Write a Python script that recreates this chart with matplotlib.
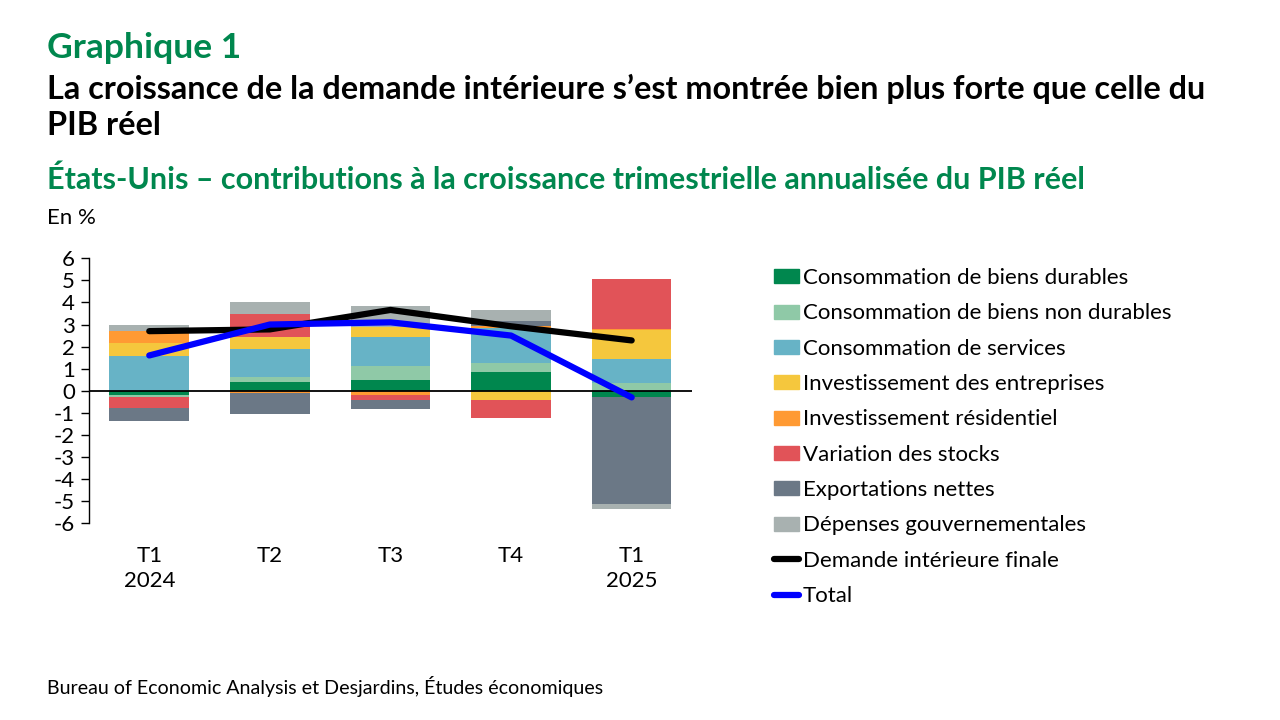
import matplotlib.pyplot as plt
import matplotlib.lines as mlines
import matplotlib.patches as mpatches
import numpy as np

plt.rcParams['font.family'] = ['Lato', 'DejaVu Sans']
plt.rcParams['axes.unicode_minus'] = False

# trimestres
quarters = ['T1\n2024', 'T2', 'T3', 'T4', 'T1\n2025']

# contributions (points de %)
durables = [-0.17, 0.38, 0.51, 0.83, -0.26]
non_durables = [-0.09, 0.23, 0.63, 0.45, 0.33]
services = [1.56, 1.27, 1.31, 1.57, 1.13]
entreprises = [0.59, 0.54, 0.45, -0.44, 1.30]
residentiel = [0.55, -0.12, -0.21, 0.08, 0.03]
stocks = [-0.50, 1.04, -0.21, -0.81, 2.28]
exportations = [-0.63, -0.91, -0.42, 0.24, -4.85]
gouvernement = [0.27, 0.54, 0.95, 0.49, -0.26]

demande_finale = [2.7, 2.78, 3.66, 2.92, 2.28]
total = [1.6, 3.0, 3.1, 2.5, -0.3]

series = [
    ('Consommation de biens durables', durables, '#00874E'),
    ('Consommation de biens non durables', non_durables, '#8FC9A7'),
    ('Consommation de services', services, '#67B3C6'),
    ('Investissement des entreprises', entreprises, '#F5C73D'),
    ('Investissement résidentiel', residentiel, '#FF9A33'),
    ('Variation des stocks', stocks, '#E15358'),
    ('Exportations nettes', exportations, '#6B7886'),
    ('Dépenses gouvernementales', gouvernement, '#A8B1B0'),
]

green = '#00874E'

fig = plt.figure(figsize=(12.8, 7.2), dpi=100)
ax = fig.add_axes([0.0695, 0.2732, 0.4711, 0.3681])

x = np.arange(len(quarters))
pos = np.zeros(len(x))
neg = np.zeros(len(x))
handles = []
for name, vals, col in series:
    v = np.array(vals)
    bottom = np.where(v >= 0, pos, neg)
    ax.bar(x, v, width=0.66, bottom=bottom, color=col, zorder=2)
    pos = pos + np.where(v >= 0, v, 0)
    neg = neg + np.where(v < 0, v, 0)
    handles.append(mpatches.Patch(color=col, label=name))

ax.axhline(0, color='black', lw=1.3, zorder=3)
ax.plot(x, demande_finale, color='black', lw=4.5, solid_capstyle='round', zorder=4)
ax.plot(x, total, color='#0000FF', lw=4.5, solid_capstyle='round', zorder=5)
handles.append(mlines.Line2D([], [], color='black', lw=4.5, solid_capstyle='round', label='Demande intérieure finale'))
handles.append(mlines.Line2D([], [], color='#0000FF', lw=4.5, solid_capstyle='round', label='Total'))

ax.set_xlim(-0.5, 4.5)
ax.set_ylim(-6, 6)
ax.set_yticks(range(-6, 7))
ax.set_xticks(x)
ax.set_xticklabels(quarters, fontsize=16, linespacing=1.35)
ax.tick_params(axis='x', length=0, pad=16)
ax.tick_params(axis='y', labelsize=16, length=6, width=1, direction='out', pad=4)
for s in ['top', 'right', 'bottom']:
    ax.spines[s].set_visible(False)
ax.spines['left'].set_linewidth(1)

fig.legend(handles=handles, loc='upper left', bbox_to_anchor=(0.598, 0.64),
           frameon=False, fontsize=16, handlelength=1.12, handleheight=0.6,
           handletextpad=0.15, labelspacing=0.69, borderaxespad=0)

fig.text(0.037, 0.955, 'Graphique 1', fontsize=25.5, fontweight='bold', color=green, va='top')
fig.text(0.037, 0.897, 'La croissance de la demande intérieure s\u2019est montrée bien plus forte que celle du\nPIB réel',
         fontsize=23.3, fontweight='bold', color='black', va='top', linespacing=1.26)
fig.text(0.037, 0.75, 'États-Unis \u2013 contributions à la croissance trimestrielle annualisée du PIB réel',
         fontsize=22, fontweight='bold', color=green, va='center')
fig.text(0.037, 0.697, 'En %', fontsize=16, va='center')
fig.text(0.037, 0.047, 'Bureau of Economic Analysis et Desjardins, Études économiques', fontsize=14.1, va='center')

fig.savefig('out.png', dpi=100)
